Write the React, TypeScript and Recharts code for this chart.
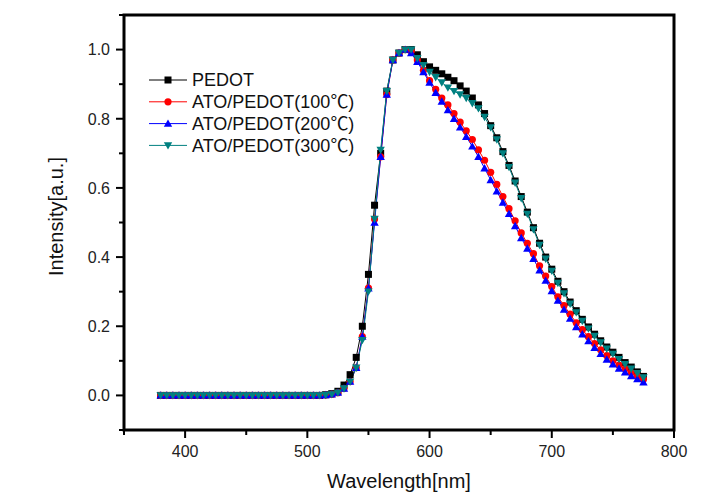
import React from "react";
import { ComposedChart, Line, XAxis, YAxis, ReferenceArea } from "recharts";

// emission spectra, normalised intensity vs wavelength (nm)
const wavelength = [
  380, 385, 390, 395, 400, 405, 410, 415, 420, 425, 430, 435, 440, 445, 450, 455,
  460, 465, 470, 475, 480, 485, 490, 495, 500, 505, 510, 515, 520, 525, 530, 535,
  540, 545, 550, 555, 560, 565, 570, 575, 580, 585, 590, 595, 600, 605, 610, 615,
  620, 625, 630, 635, 640, 645, 650, 655, 660, 665, 670, 675, 680, 685, 690, 695,
  700, 705, 710, 715, 720, 725, 730, 735, 740, 745, 750, 755, 760, 765, 770, 775,
];

const pedot = [
  0, 0, 0, 0, 0, 0, 0, 0, 0, 0, 0, 0, 0, 0, 0, 0, 0, 0, 0, 0, 0, 0, 0, 0, 0, 0, 0,
  0.002, 0.005, 0.012, 0.03, 0.06, 0.11, 0.2, 0.35, 0.55, 0.7,
  0.88, 0.97, 0.99, 1.0, 1.0, 0.985, 0.965, 0.95, 0.94, 0.93,
  0.92, 0.91, 0.895, 0.88, 0.86, 0.84, 0.815, 0.78, 0.745, 0.705,
  0.665, 0.62, 0.575, 0.53, 0.485, 0.44, 0.4, 0.365, 0.33, 0.3,
  0.27, 0.245, 0.22, 0.198, 0.177, 0.158, 0.14, 0.125, 0.11, 0.095,
  0.082, 0.068, 0.055,
];

const ato100 = [
  0, 0, 0, 0, 0, 0, 0, 0, 0, 0, 0, 0, 0, 0, 0, 0, 0, 0, 0, 0, 0, 0, 0, 0, 0, 0, 0,
  0.001, 0.003, 0.008, 0.02, 0.04, 0.08, 0.17, 0.31, 0.51, 0.69,
  0.87, 0.97, 0.99, 1.0, 0.995, 0.97, 0.94, 0.91, 0.885, 0.86,
  0.84, 0.815, 0.79, 0.765, 0.74, 0.71, 0.68, 0.645, 0.61, 0.575,
  0.54, 0.505, 0.47, 0.44, 0.41, 0.375, 0.345, 0.315, 0.285, 0.26,
  0.235, 0.21, 0.19, 0.17, 0.15, 0.132, 0.115, 0.1, 0.088, 0.077,
  0.066, 0.056, 0.047,
];

const ato200 = [
  0, 0, 0, 0, 0, 0, 0, 0, 0, 0, 0, 0, 0, 0, 0, 0, 0, 0, 0, 0, 0, 0, 0, 0, 0, 0, 0,
  0.001, 0.003, 0.008, 0.02, 0.04, 0.08, 0.17, 0.31, 0.5, 0.69,
  0.87, 0.97, 0.99, 1.0, 0.99, 0.965, 0.935, 0.905, 0.875, 0.85,
  0.825, 0.8, 0.775, 0.748, 0.72, 0.69, 0.657, 0.623, 0.59, 0.558,
  0.525, 0.49, 0.455, 0.425, 0.395, 0.362, 0.332, 0.302, 0.274, 0.248,
  0.222, 0.198, 0.177, 0.157, 0.138, 0.12, 0.104, 0.09, 0.078, 0.067,
  0.056, 0.047, 0.038,
];

const ato300 = [
  0, 0, 0, 0, 0, 0, 0, 0, 0, 0, 0, 0, 0, 0, 0, 0, 0, 0, 0, 0, 0, 0, 0, 0, 0, 0, 0,
  0.001, 0.003, 0.008, 0.02, 0.04, 0.08, 0.16, 0.3, 0.51, 0.71,
  0.88, 0.97, 0.99, 1.0, 1.0, 0.975, 0.955, 0.935, 0.92, 0.905,
  0.89, 0.88, 0.87, 0.86, 0.845, 0.83, 0.805, 0.775, 0.74, 0.7,
  0.66, 0.615, 0.57, 0.525, 0.48, 0.435, 0.395, 0.36, 0.325, 0.295,
  0.265, 0.24, 0.215, 0.193, 0.172, 0.153, 0.135, 0.12, 0.105, 0.09,
  0.077, 0.064, 0.052,
];

const xTicks = [350, 400, 450, 500, 550, 600, 650, 700, 750, 800];
const yTicks = [-0.1, 0, 0.1, 0.2, 0.3, 0.4, 0.5, 0.6, 0.7, 0.8, 0.9, 1.0, 1.1];

const seriesNames = ["PEDOT", "ATO/PEDOT(100℃)", "ATO/PEDOT(200℃)", "ATO/PEDOT(300℃)"];
const seriesColors = ["#000000", "#ff0000", "#0000ff", "#008080"];

const rows = wavelength.map((wl, i) => ({
  wl,
  pedot: pedot[i],
  t100: ato100[i],
  t200: ato200[i],
  t300: ato300[i],
}));

const FONT = "Arial, 'Liberation Sans', 'Noto Sans CJK KR', sans-serif";
const TICK_SIZE = 8;
const TICK_MARGIN = 4;

function marker(kind: number, color: string, cx: number, cy: number, key?: any) {
  if (kind === 0) {
    return <rect key={key} x={cx - 3.5} y={cy - 3.5} width={7} height={7} fill={color} />;
  }
  if (kind === 1) {
    return <circle key={key} cx={cx} cy={cy} r={3.6} fill={color} />;
  }
  if (kind === 2) {
    return (
      <path key={key} d={`M${cx},${cy - 4.2}L${cx + 4.2},${cy + 3.2}L${cx - 4.2},${cy + 3.2}Z`} fill={color} />
    );
  }
  return (
    <path key={key} d={`M${cx},${cy + 4.2}L${cx + 4.2},${cy - 3.2}L${cx - 4.2},${cy - 3.2}Z`} fill={color} />
  );
}

const dotFor = (kind: number) => (p: any) => {
  if (p.cx == null || p.cy == null) return <g key={p.key} />;
  return marker(kind, seriesColors[kind], p.cx, p.cy, p.key);
};

function XTick(props: any) {
  const { x, y, payload } = props;
  const axisY = y - TICK_SIZE - TICK_MARGIN;
  const major = payload.value % 100 === 0;
  return (
    <g>
      <line x1={x} x2={x} y1={axisY} y2={axisY + (major ? 8 : 5)} stroke="#000" strokeWidth={2} />
      {major && (
        <text x={x} y={axisY + 27} textAnchor="middle" fontSize={16} fill="#222" fontFamily={FONT}>
          {payload.value}
        </text>
      )}
    </g>
  );
}

function YTick(props: any) {
  const { x, y, payload } = props;
  const axisX = x + TICK_SIZE + TICK_MARGIN;
  const n = Math.round(payload.value * 10);
  const major = n % 2 === 0;
  return (
    <g>
      <line x1={axisX} x2={axisX - (major ? 8 : 5)} y1={y} y2={y} stroke="#000" strokeWidth={2} />
      {major && (
        <text x={axisX - 14} y={y} dy="0.36em" textAnchor="end" fontSize={16} fill="#222" fontFamily={FONT}>
          {(n / 10).toFixed(1)}
        </text>
      )}
    </g>
  );
}

const xTitle = (props: any) => {
  const vb = props.viewBox || { x: 124, y: 430, width: 550, height: 50 };
  return (
    <text x={vb.x + vb.width / 2} y={vb.y + 58} textAnchor="middle" fontSize={20} fill="#111" fontFamily={FONT}>
      Wavelength[nm]
    </text>
  );
};

const yTitle = (props: any) => {
  const vb = props.viewBox || { x: 4, y: 15, width: 120, height: 415 };
  const cx = vb.x + vb.width - 68;
  const cy = vb.y + vb.height / 2 - 6;
  return (
    <text
      x={cx}
      y={cy}
      dy="0.36em"
      textAnchor="middle"
      fontSize={20}
      fill="#111"
      fontFamily={FONT}
      transform={`rotate(-90, ${cx}, ${cy})`}
    >
      Intensity[a.u.]
    </text>
  );
};

function LegendBox() {
  return (
    <svg width={400} height={170} style={{ position: "absolute", left: 0, top: 0, pointerEvents: "none" }}>
      {seriesNames.map((name, i) => {
        const y = 80 + i * 21.8;
        return (
          <g key={name}>
            <line x1={149} x2={187} y1={y} y2={y} stroke={seriesColors[i]} strokeWidth={1} />
            {marker(i, seriesColors[i], 168, y)}
            <text x={192} y={y} dy="0.36em" fontSize={18} fill="#111" fontFamily={FONT}>
              {name}
            </text>
          </g>
        );
      })}
    </svg>
  );
}

export default function App() {
  const keys = ["pedot", "t100", "t200", "t300"];
  return (
    <div style={{ position: "absolute", left: 0, top: 0, width: 720, height: 504, background: "#fff" }}>
      <ComposedChart
        width={720}
        height={504}
        data={rows}
        margin={{ top: 15, right: 46, bottom: 24, left: 4 }}
      >
        <XAxis
          type="number"
          dataKey="wl"
          domain={[350, 800]}
          ticks={xTicks}
          interval={0}
          allowDataOverflow
          height={50}
          tickSize={TICK_SIZE}
          tickMargin={TICK_MARGIN}
          tickLine={false}
          axisLine={false}
          tick={<XTick />}
          label={xTitle}
        />
        <YAxis
          type="number"
          domain={[-0.1, 1.1]}
          ticks={yTicks}
          interval={0}
          allowDataOverflow
          width={120}
          tickSize={TICK_SIZE}
          tickMargin={TICK_MARGIN}
          tickLine={false}
          axisLine={false}
          tick={<YTick />}
          label={yTitle}
        />
        <ReferenceArea
          x1={350}
          x2={800}
          y1={-0.1}
          y2={1.1}
          fill="none"
          stroke="#000"
          strokeWidth={3}
          ifOverflow="extendDomain"
        />
        {keys.map((k, i) => (
          <Line
            key={k}
            type="linear"
            dataKey={k}
            stroke={seriesColors[i]}
            strokeWidth={1}
            dot={dotFor(i)}
            activeDot={false}
            isAnimationActive={false}
          />
        ))}
      </ComposedChart>
      <LegendBox />
    </div>
  );
}
